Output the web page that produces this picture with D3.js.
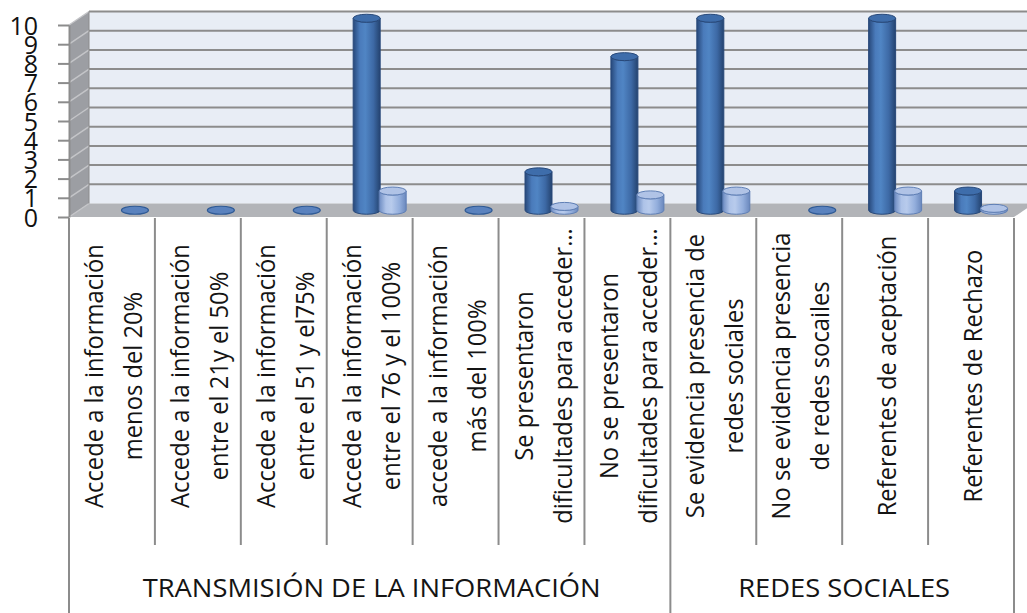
<!DOCTYPE html>
<html><head><meta charset="utf-8">
<script src="https://cdn.jsdelivr.net/npm/d3@7"></script>
<style>body{margin:0;background:#fff}svg{display:block}</style>
</head><body>
<svg id="c" width="1027" height="613"></svg>
<script>
// ---- data ----
const categories = [
  ["Accede a la información", "menos del 20%"],
  ["Accede a la información", "entre el 21y el 50%"],
  ["Accede a la información", "entre el 51 y el75%"],
  ["Accede a la información", "entre el 76 y el 100%"],
  ["accede a la información", "más del 100%"],
  ["Se presentaron", "dificultades para acceder…"],
  ["No se presentaron", "dificultades para acceder…"],
  ["Se evidencia presencia de", "redes sociales"],
  ["No se evidencia presencia", "de redes socailes"],
  ["Referentes de aceptación"],
  ["Referentes de Rechazo"]
];
const groupNames = ["TRANSMISIÓN DE LA INFORMACIÓN", "REDES SOCIALES"];
const groupSizes = [7, 4];
const series1 = [null, null, null, 10, null, 2, 8, 10, null, 10, 1];
const series2 = [0, 0, 0, 1, 0, 0.2, 0.8, 1, 0, 1, 0.1];
const yTicks = [0, 1, 2, 3, 4, 5, 6, 7, 8, 9, 10];

// ---- layout ----
const svg = d3.select("#c");
const FONT = "'Open Sans', 'DejaVu Sans', sans-serif";
const dx = 20, dy = -13.5;
const x = d3.scaleBand().domain(d3.range(categories.length)).range([69, 1014]).padding(0);
const y = d3.scaleLinear().domain([0, 10]).range([217, 25]);
const X0 = x.range()[0], X1 = x.range()[1];

const defs = svg.append("defs");
function grad(id, stops) {
  const g = defs.append("linearGradient").attr("id", id).attr("x1", "0%").attr("x2", "100%").attr("y1", "0%").attr("y2", "0%");
  stops.forEach(s => g.append("stop").attr("offset", s[0]).attr("stop-color", s[1]));
}
grad("g1", [["0%", "#27487a"], ["25%", "#4a7bbb"], ["45%", "#5085c4"], ["75%", "#3d69a5"], ["100%", "#24436f"]]);
grad("g2", [["0%", "#6d8cc2"], ["25%", "#aec3e8"], ["45%", "#b8cbec"], ["75%", "#93aedc"], ["100%", "#6a88bd"]]);

// back wall
svg.append("polygon")
  .attr("points", [[X0 + dx, y(10) + dy], [X1 + dx, y(10) + dy], [X1 + dx, y(0) + dy], [X0 + dx, y(0) + dy]].join(" "))
  .attr("fill", "#e8edf5");
// side wall
svg.append("polygon")
  .attr("points", [[X0, y(10)], [X0 + dx, y(10) + dy], [X0 + dx, y(0) + dy], [X0, y(0)]].join(" "))
  .attr("fill", "#9c9ea3");
// floor
svg.append("polygon")
  .attr("points", [[X0, y(0)], [X1, y(0)], [X1 + dx, y(0) + dy], [X0 + dx, y(0) + dy]].join(" "))
  .attr("fill", "#b2b4b8");

// gridlines
svg.append("g").selectAll("line").data(yTicks.filter(v => v > 0)).join("line")
  .attr("x1", X0 + dx).attr("x2", X1 + dx)
  .attr("y1", d => y(d) + dy).attr("y2", d => y(d) + dy)
  .attr("stroke", "#8c8c8c").attr("stroke-width", 2);
svg.append("g").selectAll("line").data(yTicks).join("line")
  .attr("x1", X0).attr("x2", X0 + dx)
  .attr("y1", d => y(d)).attr("y2", d => y(d) + dy)
  .attr("stroke", "#c4c5c8").attr("stroke-width", 1.5);
svg.append("line").attr("x1", X0 + dx).attr("x2", X0 + dx).attr("y1", y(10) + dy).attr("y2", y(0) + dy)
  .attr("stroke", "#8c8c8c").attr("stroke-width", 1);

// y axis
const yAxis = d3.axisLeft(y).tickValues(yTicks).tickSize(11).tickPadding(20).tickSizeOuter(0);
const ga = svg.append("g").attr("transform", `translate(${X0},0)`).call(yAxis);
ga.select(".domain").attr("stroke", "#8c8c8c").attr("stroke-width", 2);
ga.selectAll(".tick line").attr("stroke", "#8c8c8c").attr("stroke-width", 2);
ga.selectAll(".tick text").attr("font-family", FONT).attr("font-size", 25).attr("fill", "#111")
  .attr("dy", "0.36em");

// bars (cylinders at mid depth)
const r = 13.5, ry = 4;
const off = [-13, 13];
const base = y(0) + dy / 2;
function cyl(g, cx, v, fillId, topFill, stroke) {
  const yt = y(v) + dy / 2;
  if (v > 0) {
    g.append("path")
      .attr("d", `M${cx - r},${yt} L${cx - r},${base} A${r},${ry} 0 0 0 ${cx + r},${base} L${cx + r},${yt} A${r},${ry} 0 0 1 ${cx - r},${yt} Z`)
      .attr("fill", `url(#${fillId})`).attr("stroke", stroke).attr("stroke-width", 1);
    g.append("ellipse").attr("cx", cx).attr("cy", yt).attr("rx", r).attr("ry", ry)
      .attr("fill", topFill).attr("stroke", stroke).attr("stroke-width", 1);
  } else {
    g.append("ellipse").attr("cx", cx).attr("cy", base).attr("rx", r).attr("ry", ry)
      .attr("fill", "#5a82be").attr("stroke", "#2f5a95").attr("stroke-width", 1.2);
  }
}
const bars = svg.append("g");
categories.forEach((c, i) => {
  const cc = x(i) + x.bandwidth() / 2 + dx / 2;
  if (series1[i] != null) cyl(bars, cc + off[0], series1[i], "g1", "#3e6dab", "#28497a");
  if (series2[i] != null) cyl(bars, cc + off[1], series2[i], "g2", "#b0c3e6", "#5f7fb5");
});

// category frame lines
const groupStarts = [0];
groupSizes.forEach((s, i) => groupStarts.push(groupStarts[i] + s));
const bounds = d3.range(categories.length + 1);
svg.append("g").selectAll("line").data(bounds).join("line")
  .attr("x1", d => X0 + d * x.bandwidth()).attr("x2", d => X0 + d * x.bandwidth())
  .attr("y1", 218).attr("y2", d => groupStarts.includes(d) ? 613 : 545)
  .attr("stroke", "#8c8c8c").attr("stroke-width", 2);

// measure text scaling to emulate a narrow font
const tmp = svg.append("text").attr("font-family", FONT).attr("font-size", 26).text("Accede a la información");
const k = 264 / tmp.node().getComputedTextLength();
tmp.remove();

// category labels
const lab = svg.append("g").attr("font-family", FONT).attr("font-size", 26).attr("fill", "#141414").attr("text-anchor", "middle");
categories.forEach((lines, i) => {
  const cc = x(i) + x.bandwidth() / 2;
  const offs = lines.length === 2 ? [-9, 30] : [11];
  lines.forEach((t, j) => {
    lab.append("text").attr("transform", `translate(${cc + offs[j]},376) rotate(-90) scale(${k},1)`).text(t);
  });
});

// group labels (uppercase runs slightly wider)
const kg = k * 1.15;
groupNames.forEach((g, i) => {
  const gx = X0 + (groupStarts[i] + groupSizes[i] / 2) * x.bandwidth();
  svg.append("text").attr("font-family", FONT).attr("font-size", 26).attr("fill", "#141414")
    .attr("text-anchor", "middle").attr("transform", `translate(${gx + 2},597) scale(${kg},1)`).text(g);
});
</script>
</body></html>
